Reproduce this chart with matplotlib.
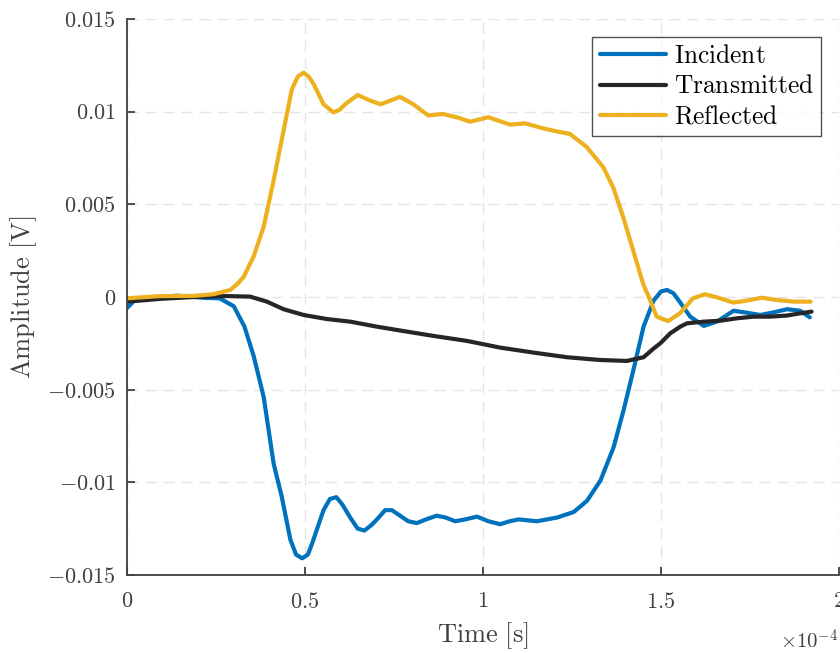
import numpy as np
import matplotlib
matplotlib.use("Agg")
import matplotlib.pyplot as plt

plt.rcParams['mathtext.fontset'] = 'cm'
plt.rcParams['font.family'] = ['cmr10', 'DejaVu Serif']
plt.rcParams['axes.unicode_minus'] = False

# time in units of 1e-4 s, amplitude in V
t_inc = [0.0, 0.02, 0.06, 0.14, 0.22, 0.26, 0.30, 0.33, 0.356, 0.384, 0.412, 0.435,
         0.459, 0.475, 0.492, 0.508, 0.52, 0.552, 0.57, 0.588, 0.605, 0.627, 0.648,
         0.667, 0.687, 0.707, 0.725, 0.744, 0.767, 0.79, 0.814, 0.84, 0.87, 0.895,
         0.922, 0.95, 0.983, 1.015, 1.048, 1.075, 1.10, 1.151, 1.208, 1.255, 1.292,
         1.33, 1.367, 1.395, 1.423, 1.451, 1.479, 1.50, 1.517, 1.535, 1.554, 1.582,
         1.62, 1.657, 1.704, 1.741, 1.779, 1.816, 1.854, 1.891, 1.918]
v_inc = [-0.0006, -0.0002, -0.00005, 0.00007, -0.00005, -0.00007, -0.0005, -0.0016,
         -0.0032, -0.0054, -0.009, -0.0108, -0.0131, -0.0139, -0.0141, -0.0139,
         -0.0133, -0.0115, -0.0109, -0.0108, -0.0112, -0.0119, -0.0125, -0.0126,
         -0.0123, -0.0119, -0.0115, -0.0115, -0.0118, -0.0121, -0.0122, -0.012,
         -0.0118, -0.0119, -0.0121, -0.012, -0.01185, -0.0121, -0.01226, -0.0121,
         -0.012, -0.0121, -0.0119, -0.0116, -0.011, -0.0099, -0.0081, -0.0061,
         -0.0039, -0.0016, -0.0002, 0.0003, 0.00038, 0.0002, -0.0003, -0.00106,
         -0.00156, -0.00133, -0.00074, -0.00085, -0.00097, -0.00083, -0.00066,
         -0.00074, -0.0011]

t_tra = [0.0, 0.094, 0.187, 0.281, 0.346, 0.393, 0.44, 0.496, 0.562, 0.627, 0.702,
         0.787, 0.861, 0.955, 1.048, 1.142, 1.236, 1.33, 1.404, 1.451, 1.478, 1.498,
         1.526, 1.554, 1.573, 1.62, 1.667, 1.713, 1.76, 1.807, 1.854, 1.891, 1.923]
v_tra = [-0.00025, -0.0001, 0.0, 0.00005, 0.00002, -0.00025, -0.00066, -0.00097,
         -0.00119, -0.00133, -0.0016, -0.00187, -0.0021, -0.00237, -0.00273, -0.003,
         -0.00325, -0.0034, -0.00345, -0.00325, -0.0028, -0.0025, -0.00196, -0.0016,
         -0.00142, -0.00133, -0.00128, -0.00115, -0.00106, -0.00106, -0.001,
         -0.00088, -0.00079]

t_ref = [0.0, 0.094, 0.187, 0.243, 0.29, 0.31, 0.328, 0.356, 0.384, 0.412, 0.44,
         0.463, 0.48, 0.496, 0.51, 0.524, 0.552, 0.58, 0.597, 0.613, 0.648, 0.683,
         0.712, 0.74, 0.767, 0.804, 0.846, 0.888, 0.926, 0.964, 1.015, 1.076, 1.118,
         1.169, 1.216, 1.244, 1.291, 1.338, 1.366, 1.394, 1.422, 1.45, 1.47, 1.488,
         1.52, 1.553, 1.59, 1.624, 1.661, 1.703, 1.74, 1.783, 1.825, 1.872, 1.92]
v_ref = [-0.00007, 0.00005, 0.00006, 0.00015, 0.00038, 0.0007, 0.0011, 0.0022,
         0.0038, 0.0063, 0.009, 0.0112, 0.0119, 0.0121, 0.0119, 0.0115, 0.0104,
         0.00996, 0.0101, 0.0104, 0.0109, 0.0106, 0.0104, 0.0106, 0.0108, 0.0104,
         0.0098, 0.00987, 0.0097, 0.00946, 0.0097, 0.0093, 0.00937, 0.0091, 0.0089,
         0.0088, 0.0081, 0.007, 0.0059, 0.0043, 0.0025, 0.0007, -0.0002, -0.00106,
         -0.0013, -0.00088, -0.00007, 0.00015, -0.00004, -0.0003, -0.0002, -0.00004,
         -0.00016, -0.00025, -0.00025]

xticks = [0, 0.5, 1, 1.5, 2]
xtick_labels = ['0', '0.5', '1', '1.5', '2']
yticks = [0.015, 0.01, 0.005, 0, -0.005, -0.01, -0.015]
ytick_labels = ['0.015', '0.01', '0.005', '0', '-0.005', '-0.01', '-0.015']

fig = plt.figure(figsize=(8.4, 6.53), dpi=100)
ax = fig.add_axes([127/840, 1 - 575/653, 712/840, 556/653])

kw = dict(lw=3, solid_joinstyle='round', solid_capstyle='round')
ax.plot(np.array(t_inc) * 1e-4, v_inc, color='#0072BD', label=r'$\mathrm{Incident}$', **kw)
ax.plot(np.array(t_tra) * 1e-4, v_tra, color='#262626', label=r'$\mathrm{Transmitted}$', **kw)
ax.plot(np.array(t_ref) * 1e-4, v_ref, color='#EDB120', label=r'$\mathrm{Reflected}$', **kw)

ax.set_xlim(0, 2e-4)
ax.set_ylim(-0.015, 0.015)
ax.set_xticks(np.array(xticks) * 1e-4)
ax.set_xticklabels(['$' + s + '$' for s in xtick_labels])
ax.set_yticks(yticks)
ax.set_yticklabels(['$' + s + '$' for s in ytick_labels])

for s in ['top', 'right']:
    ax.spines[s].set_visible(False)
for s in ['left', 'bottom']:
    ax.spines[s].set_linewidth(1.3)
    ax.spines[s].set_color('#404040')
ax.tick_params(direction='in', length=6, width=1.3, color='#404040',
               labelsize=16, labelcolor='#404040')
ax.tick_params(axis='x', pad=12)
ax.tick_params(axis='y', pad=8)

ax.grid(True, color='#e4e4e4', linestyle=(0, (8, 5)), lw=1)
ax.set_axisbelow(True)

ax.set_xlabel(r'$\mathrm{Time\ [s]}$', fontsize=19, color='#404040', labelpad=6)
ax.set_ylabel(r'$\mathrm{Amplitude\ [V]}$', fontsize=19, color='#404040', labelpad=6)
fig.text(838/840, 1 - 641/653, r'$\times 10^{-4}$', ha='right', va='center',
         fontsize=15, color='#404040')

leg = ax.legend(loc='upper right', bbox_to_anchor=(821/840, 1 - 37/653),
                bbox_transform=fig.transFigure, prop={'size': 18.3}, frameon=True,
                fancybox=False, edgecolor='#262626', handlelength=2.6,
                handletextpad=0.3, borderpad=0.3, labelspacing=0.25,
                borderaxespad=0)
leg.get_frame().set_linewidth(1.0)

fig.savefig('out.png', dpi=100)
